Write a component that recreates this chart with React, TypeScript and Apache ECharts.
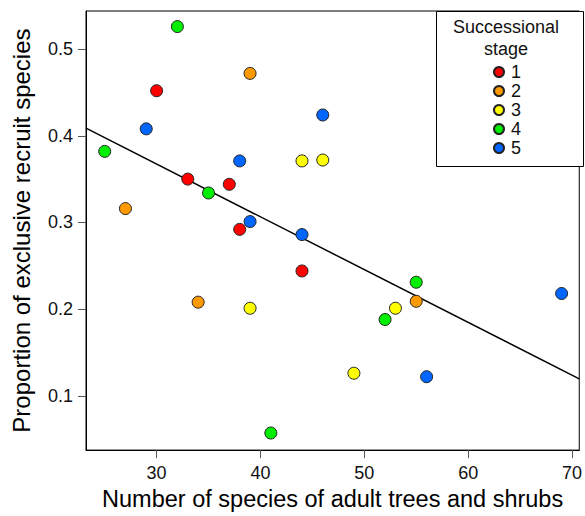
import React, { useEffect, useRef } from "react";
import * as echarts from "echarts";

// Observations per successional stage: [adult species count, proportion of exclusive recruits]
const stage1: [number, number][] = [
  [30, 0.452], [33, 0.35], [37, 0.344], [38, 0.292], [44, 0.244],
];
const stage2: [number, number][] = [
  [27, 0.316], [39, 0.472], [34, 0.208], [55, 0.209],
];
const stage3: [number, number][] = [
  [44, 0.371], [46, 0.372], [39, 0.201], [49, 0.126], [53, 0.201],
];
const stage4: [number, number][] = [
  [32, 0.526], [25, 0.382], [35, 0.334], [41, 0.057], [52, 0.188], [55, 0.231],
];
const stage5: [number, number][] = [
  [29, 0.408], [38, 0.371], [39, 0.301], [46, 0.424], [44, 0.286], [56, 0.122], [69, 0.218],
];

const stageNames = ["1", "2", "3", "4", "5"];
const stageColors = ["#FF0000", "#FF9900", "#FFFF00", "#00EE00", "#0066FF"];
const stageData = [stage1, stage2, stage3, stage4, stage5];

// Fitted linear trend: y = intercept + slope * x
const FIT_INTERCEPT = 0.5501;
const FIT_SLOPE = -0.00609;

const X_MIN = 23.2;
const X_MAX = 70.7;
const Y_MIN = 0.0373;
const Y_MAX = 0.544;

const xTicks = [30, 40, 50, 60, 70];
const yTicks = [0.1, 0.2, 0.3, 0.4, 0.5];

const FONT = "Liberation Sans, Arial, Helvetica, sans-serif";

export default function App() {
  const ref = useRef<HTMLDivElement>(null);

  useEffect(() => {
    if (!ref.current) return;
    const chart = echarts.init(ref.current, undefined, { renderer: "svg" });

    const fitLine = [X_MIN, X_MAX].map((x) => [x, FIT_INTERCEPT + FIT_SLOPE * x]);

    const scatterSeries = stageData.map((data, i) => ({
      name: stageNames[i],
      type: "scatter",
      data,
      symbol: "circle",
      symbolSize: 12,
      itemStyle: {
        color: stageColors[i],
        borderColor: "#222",
        borderWidth: 1,
        opacity: 1,
      },
      z: 3,
    }));

    chart.setOption({
      animation: false,
      backgroundColor: "#fff",
      textStyle: { fontFamily: FONT },
      grid: {
        left: 86,
        top: 11,
        right: 2,
        bottom: 63,
        show: true,
        borderColor: "#000",
        borderWidth: 1,
        backgroundColor: "transparent",
      },
      xAxis: {
        type: "value",
        min: X_MIN,
        max: X_MAX,
        name: "Number of species of adult trees and shrubs",
        nameLocation: "middle",
        nameGap: 36,
        nameTextStyle: { fontSize: 23.5, color: "#000", fontFamily: FONT },
        axisLine: { show: true, onZero: false, lineStyle: { color: "#000", width: 1 } },
        axisTick: {
          show: true,
          length: 8,
          customValues: xTicks,
          lineStyle: { color: "#555" },
        },
        axisLabel: {
          customValues: xTicks,
          fontSize: 18,
          color: "#111",
          margin: 14,
          fontFamily: FONT,
        },
        splitLine: { show: false },
      },
      yAxis: {
        type: "value",
        min: Y_MIN,
        max: Y_MAX,
        name: "Proportion of exclusive recruit species",
        nameLocation: "middle",
        nameGap: 53,
        nameTextStyle: { fontSize: 24, color: "#000", fontFamily: FONT },
        axisLine: { show: true, onZero: false, lineStyle: { color: "#000", width: 1 } },
        axisTick: {
          show: true,
          length: 8,
          customValues: yTicks,
          lineStyle: { color: "#555" },
        },
        axisLabel: {
          customValues: yTicks,
          fontSize: 18,
          color: "#111",
          margin: 13,
          fontFamily: FONT,
          formatter: (v: number) => v.toFixed(1),
        },
        splitLine: { show: false },
      },
      legend: {
        data: stageNames,
        orient: "vertical",
        left: 488,
        top: 58,
        itemWidth: 10,
        itemHeight: 10,
        itemGap: 1,
        icon: "circle",
        selectedMode: false,
        textStyle: { fontSize: 18, color: "#111", fontFamily: FONT, padding: [0, 0, 0, 2] },
        z: 10,
      },
      graphic: [
        {
          type: "rect",
          shape: { x: 436.5, y: 11.5, width: 147, height: 155 },
          style: { fill: "#fff", stroke: "#000", lineWidth: 1 },
          z: 5,
        },
        {
          type: "text",
          x: 506,
          y: 16,
          style: {
            text: "Successional\nstage",
            fontSize: 18,
            lineHeight: 22,
            fontFamily: FONT,
            fill: "#111",
            textAlign: "center",
          },
          z: 6,
        },
      ],
      series: [
        ...scatterSeries,
        {
          name: "fit",
          type: "line",
          data: fitLine,
          symbol: "none",
          lineStyle: { color: "#000", width: 1.5 },
          z: 2,
          silent: true,
        },
      ],
    });

    return () => chart.dispose();
  }, []);

  return (
    <div
      ref={ref}
      style={{ position: "fixed", left: 0, top: 0, width: 585, height: 516 }}
    />
  );
}
